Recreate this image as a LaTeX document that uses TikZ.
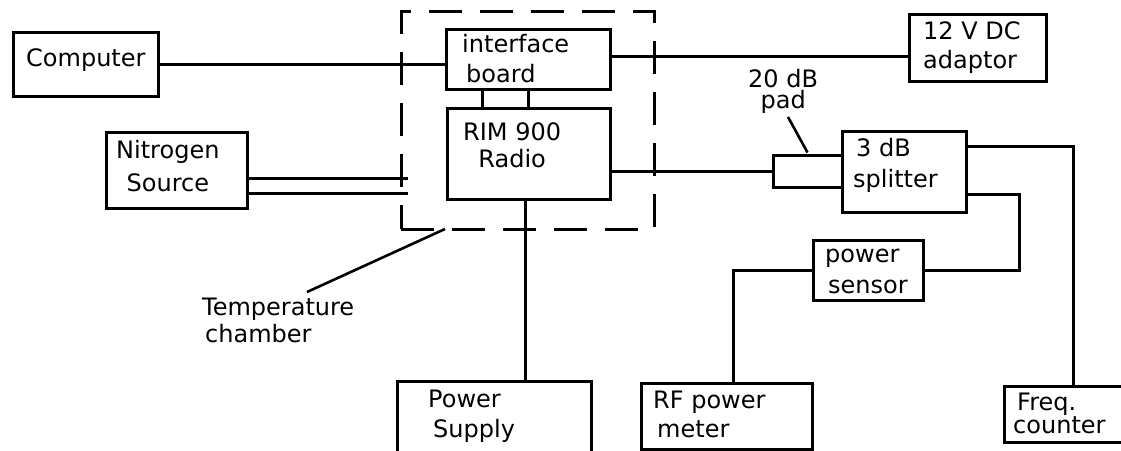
\documentclass[tikz,border=0pt]{standalone}
\usepackage{fontspec}
\setmainfont{DejaVu Sans}
\usetikzlibrary{calc}
\tikzset{
  box/.style={draw, line width=3pt, inner sep=0pt, rectangle},
  wire/.style={line width=3pt},
  thinwire/.style={line width=2.6pt},
  chamberbox/.style={draw, line width=3pt, dash pattern=on 33pt off 18pt, inner sep=0pt, rectangle},
  txt/.style={inner sep=0pt, font=\fontsize{24}{30}\selectfont},
}
\begin{document}
\begin{tikzpicture}[x=1pt, y=-1pt]
\useasboundingbox (0,0) rectangle (1121,450);
\clip (0,0) rectangle (1121,450);
% chamber
\node[chamberbox, minimum width=253pt, minimum height=218pt] (chamber) at (527.5,120) {};
% boxes
\node[box, minimum width=145pt, minimum height=64pt] (comp) at (85.5,64) {};
\node[box, minimum width=141pt, minimum height=76pt] (nitro) at (176.5,170) {};
\node[box, minimum width=164pt, minimum height=60pt] (iface) at (528,59) {};
\node[box, minimum width=163pt, minimum height=91pt] (rim) at (528.5,153.5) {};
\node[box, minimum width=137pt, minimum height=67pt] (dc) at (977.5,47.5) {};
\node[box, minimum width=69pt, minimum height=32pt] (pad) at (807.5,171) {};
\node[box, minimum width=124pt, minimum height=81pt] (split) at (904,171.5) {};
\node[box, minimum width=110pt, minimum height=60pt] (sensor) at (868,270) {};
\node[box, minimum width=171pt, minimum height=66pt] (rfm) at (726.5,416) {};
\node[box, minimum width=138pt, minimum height=56pt] (freq) at (1073,414) {};
\node[box, minimum width=194pt, minimum height=85pt] (psu) at (494,423.5) {};
% texts (anchor at baseline of last line)
\node[txt, anchor=base west] (compt) at (26,66) {Computer};
\node[txt, anchor=base west, align=center, font=\fontsize{24}{33}\selectfont] (nitrot) at (116,191) {Nitrogen\\Source};
\node[txt, anchor=base west, align=left] (ifacet) at (462,82) {interface\\\hspace{4pt}board};
\node[txt, anchor=base west, align=center, font=\fontsize{24}{27}\selectfont] (rimt) at (463,167) {RIM 900\\Radio};
\node[txt, anchor=base west, align=left, font=\fontsize{24}{29}\selectfont] (dct) at (923,68) {12 V DC\\adaptor};
\node[txt, anchor=base west, align=center, font=\fontsize{24}{21}\selectfont] (padt) at (748,108) {20 dB\\pad};
\node[txt, anchor=base west, align=left, font=\fontsize{24}{31}\selectfont] (splitt) at (853,187) {\hspace{3pt}3 dB\\splitter};
\node[txt, anchor=base west, align=left, font=\fontsize{24}{31}\selectfont] (sensort) at (825,293) {power\\\hspace{3pt}sensor};
\node[txt, anchor=base west, align=left, font=\fontsize{24}{29}\selectfont] (rfmt) at (653,437) {RF power\\\hspace{4pt}meter};
\node[txt, anchor=base west, align=left, font=\fontsize{24}{23}\selectfont] (freqt) at (1013,433) {\hspace{4pt}Freq.\\counter};
\node[txt, anchor=base west, align=left, font=\fontsize{24}{30}\selectfont] (psut) at (428,437) {Power\\\hspace{5pt}Supply};
\node[txt, anchor=base west, align=left, font=\fontsize{24}{27}\selectfont] (tempt) at (202,342) {Temperature\\\hspace{3pt}chamber};
% helper coordinates
\coordinate (padlead) at (788,117);
\coordinate (templead) at (307,292);
\coordinate (tempend) at (445,229);
\coordinate (nitroend1) at (408,178);
\coordinate (nitroend2) at (408,193);
\coordinate (ifaceR) at ($(iface.east)+(0,-3)$);
\coordinate (ifaceL) at ($(iface.south)+(-46,0)$);
\coordinate (rimB) at ($(rim.south)+(-3.5,0)$);
\coordinate (padT) at ($(pad.north)+(0,-1)$);
\coordinate (splitA) at ($(split.east)+(0,-25.5)$);
\coordinate (splitB) at ($(split.east)+(0,22.5)$);
\coordinate (sensorR) at ($(sensor.east)+(95,0)$);
\coordinate (rfmT) at ($(rfm.north)+(6.5,0)$);
\coordinate (nitroA) at ($(nitro.east)+(0,8)$);
\coordinate (nitroB) at ($(nitro.east)+(0,23)$);
% connectors
\draw[wire] (comp.east) -- (comp.east -| iface.west);
\draw[wire] (ifaceR) -- (ifaceR -| dc.west);
\draw[wire] (ifaceL) -- (ifaceL |- rim.north);
\draw[wire] (iface.south) -- (iface.south |- rim.north);
\draw[wire] (pad.west -| rim.east) -- (pad.west);
\draw[thinwire] (padlead) -- (padT);
\draw[wire] (splitA) -| (freq.north);
\draw[wire] (splitB) -| (sensorR) -- (sensor.east);
\draw[wire] (sensor.west) -| (rfmT);
\draw[wire] (rimB) -- (rimB |- psu.north);
\draw[wire] (nitroA) -- (nitroend1);
\draw[wire] (nitroB) -- (nitroend2);
\draw[thinwire] (templead) -- (tempend);
\end{tikzpicture}
\end{document}
